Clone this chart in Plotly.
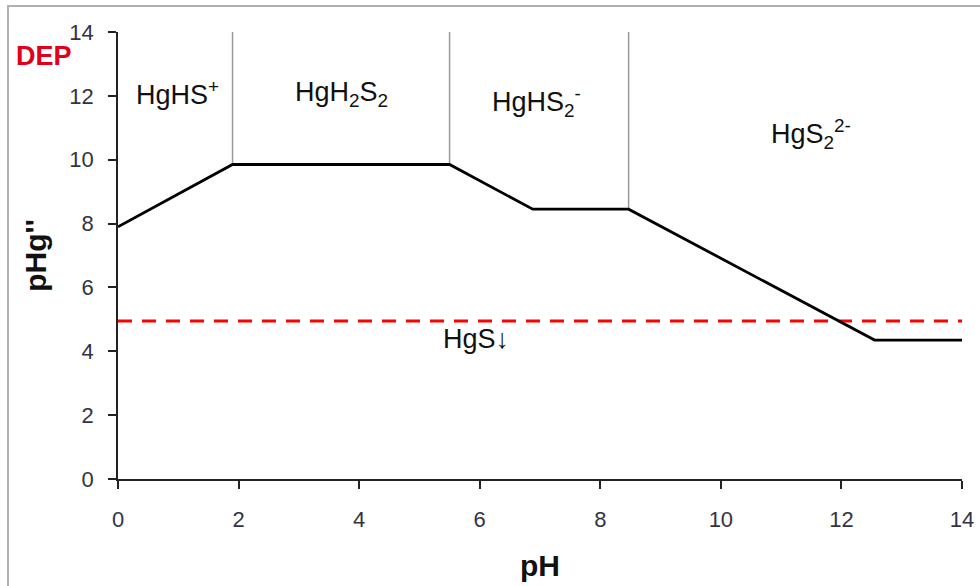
import plotly.graph_objects as go

# Data
ph_line = [0, 1.9, 5.5, 6.88, 8.47, 12.55, 14]
phg_line = [7.9, 9.85, 9.85, 8.45, 8.45, 4.35, 4.35]
boundary_ph = [1.9, 5.5, 8.47]
boundary_bottom = [9.85, 9.85, 8.45]
dep_level = 4.95
species_labels = ["HgHS<sup>+</sup>", "HgH<sub>2</sub>S<sub>2</sub>", "HgHS<sub>2</sub><sup>-</sup>",
                  "HgS<sub>2</sub><sup>2-</sup>", "HgS↓"]
species_x = [0.98, 3.7, 6.95, 11.5, 5.94]
species_y = [12.1, 12.05, 11.8, 10.8, 4.4]
x_ticks = [0, 2, 4, 6, 8, 10, 12, 14]
y_ticks = [0, 2, 4, 6, 8, 10, 12, 14]

FONT = "Liberation Sans, Arial, sans-serif"

fig = go.Figure()

for xb, yb in zip(boundary_ph, boundary_bottom):
    fig.add_trace(go.Scatter(x=[xb, xb], y=[yb, 14], mode="lines",
                             line=dict(color="#9a9a9a", width=1.5),
                             showlegend=False, hoverinfo="skip"))

fig.add_trace(go.Scatter(x=[0, 14], y=[dep_level, dep_level], mode="lines",
                         line=dict(color="#ff0000", width=3, dash="14px,10px"),
                         showlegend=False, hoverinfo="skip"))

fig.add_trace(go.Scatter(x=ph_line, y=phg_line, mode="lines",
                         line=dict(color="black", width=2.8),
                         showlegend=False))

for t, x, y in zip(species_labels, species_x, species_y):
    fig.add_annotation(x=x, y=y, text=t, showarrow=False,
                       font=dict(family=FONT, size=27, color="#111111"))

fig.add_annotation(xref="paper", yref="paper", x=-0.0877, y=0.946, text="<b>DEP</b>",
                   xanchor="center", yanchor="middle",
                   showarrow=False, font=dict(family=FONT, size=27, color="#e0001a"))

# outer frame
fig.add_shape(type="rect", xref="paper", yref="paper", x0=-0.1303, x1=1.05, y0=-0.4, y1=1.0582,
              line=dict(color="#b0b0b0", width=2), layer="below")

fig.update_layout(
    width=980, height=586,
    margin=dict(l=118, r=18, t=32, b=107, autoexpand=False),
    plot_bgcolor="white", paper_bgcolor="white",
    font=dict(family=FONT, color="#333344"),
    xaxis=dict(range=[0, 14], tickvals=x_ticks, showgrid=False, zeroline=False,
               automargin=False,
               showline=True, linecolor="#222222", linewidth=1.5,
               ticks="outside", ticklen=8, tickcolor="#222222", tickwidth=1.5,
               ticklabelstandoff=12,
               tickfont=dict(family=FONT, size=22, color="#333344"),
               title=dict(text="<b>pH</b>", font=dict(family=FONT, size=30, color="#111111"), standoff=24)),
    yaxis=dict(range=[0, 14], tickvals=y_ticks, showgrid=False, zeroline=False,
               automargin=False,
               showline=True, linecolor="#222222", linewidth=1.5,
               ticks="outside", ticklen=8, tickcolor="#222222", tickwidth=1.5,
               ticklabelstandoff=10,
               tickfont=dict(family=FONT, size=22, color="#333344"),
               title=dict(text="<b>pHg''</b>", font=dict(family=FONT, size=30, color="#111111"), standoff=14)),
)

fig.write_html("out.html")
